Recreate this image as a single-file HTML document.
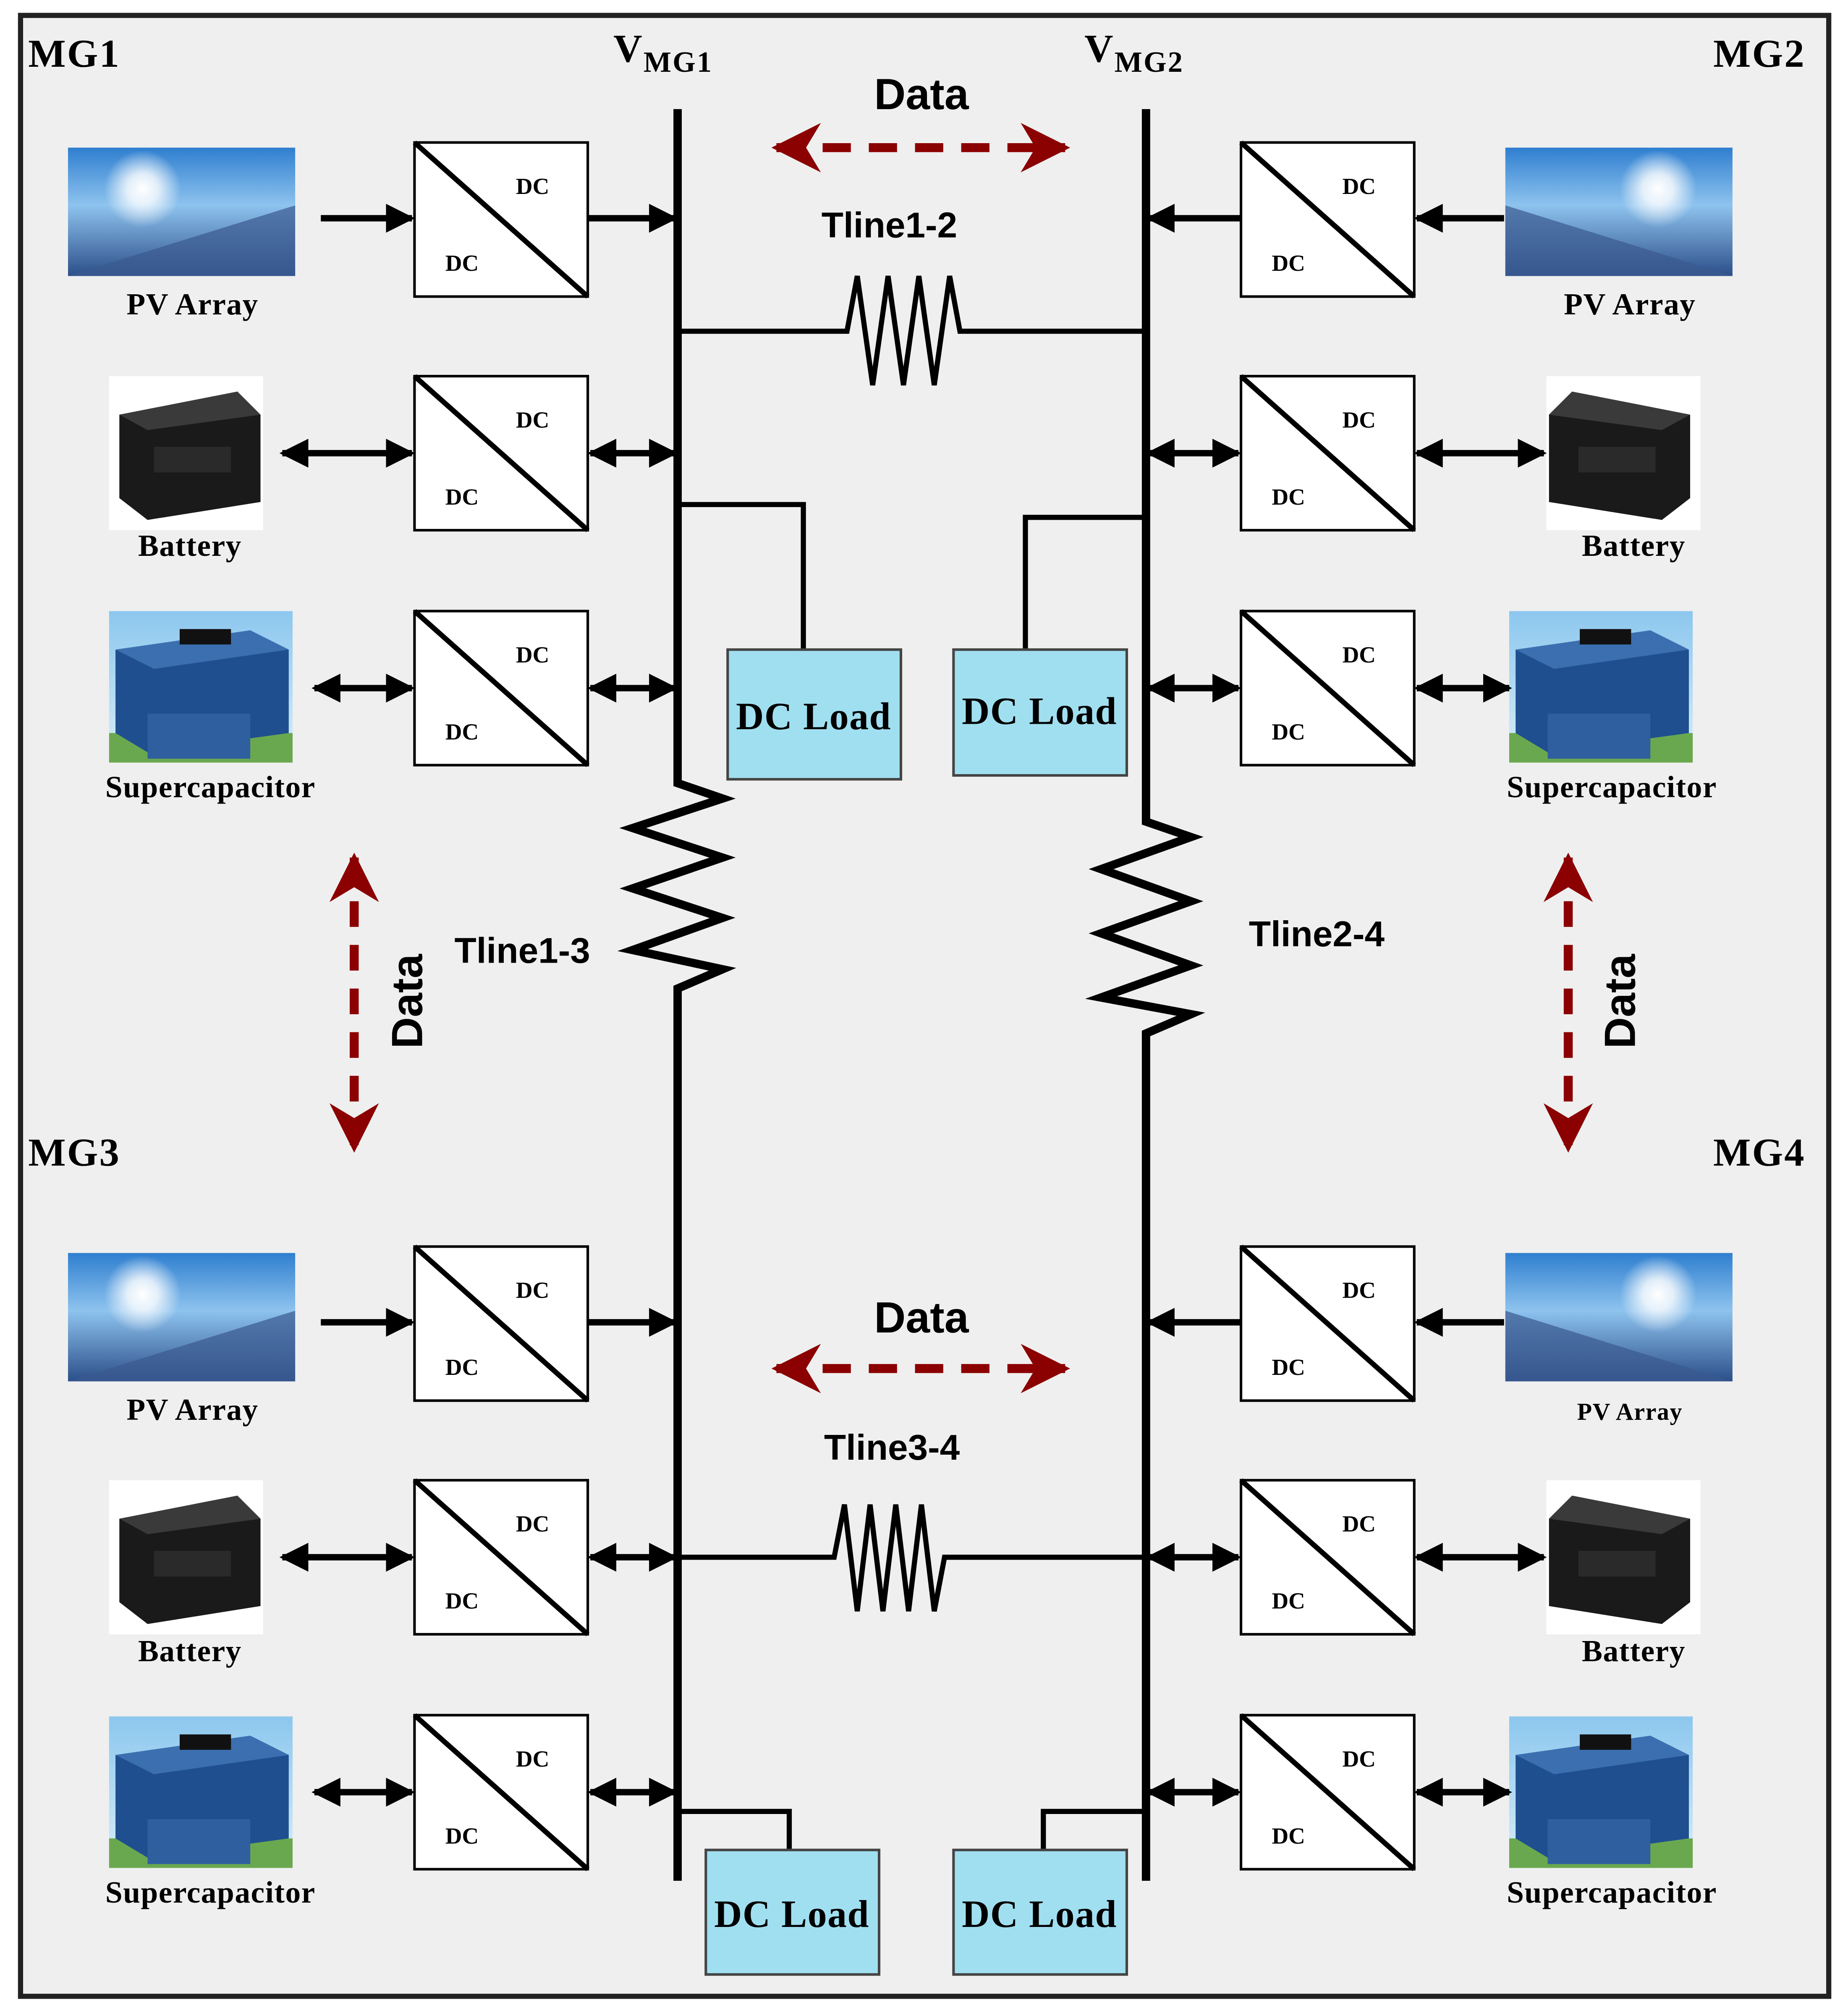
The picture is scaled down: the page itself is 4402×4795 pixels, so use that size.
<!DOCTYPE html>
<html><head><meta charset="utf-8"><style>html,body{margin:0;padding:0;background:#fff}svg{display:block}</style></head>
<body>
<svg width="4402" height="4795" viewBox="0 0 1440 1568" preserveAspectRatio="none" xmlns="http://www.w3.org/2000/svg">
<defs>
<marker id="ah" viewBox="0 0 10 10" refX="9" refY="5" markerWidth="4.5" markerHeight="4.5" orient="auto-start-reverse"><path d="M0,0 L10,5 L0,10 z" fill="#000"/></marker>
<marker id="rh" viewBox="0 0 10 10" refX="9" refY="5" markerWidth="5.5" markerHeight="5.5" orient="auto-start-reverse"><path d="M0,0 L10,5 L0,10 L3,5 z" fill="#8b0000"/></marker>
<linearGradient id="pv" x1="0" y1="0" x2="0" y2="1"><stop offset="0" stop-color="#2f7fd0"/><stop offset="0.45" stop-color="#8ec3ee"/><stop offset="1" stop-color="#2c4f8a"/></linearGradient>
<radialGradient id="sun" cx="0.5" cy="0.5" r="0.5"><stop offset="0" stop-color="#fff"/><stop offset="0.4" stop-color="#fff" stop-opacity="0.8"/><stop offset="1" stop-color="#fff" stop-opacity="0"/></radialGradient>
<linearGradient id="sky" x1="0" y1="0" x2="0" y2="1"><stop offset="0" stop-color="#8cc7ee"/><stop offset="1" stop-color="#d9eef9"/></linearGradient>
<g id="pvimg"><rect width="177" height="100" fill="url(#pv)"/><path d="M0,100 L177,45 L177,100 Z" fill="#3a5a90" opacity="0.7"/><circle cx="58" cy="32" r="30" fill="url(#sun)"/></g>
<g id="bat"><rect width="120" height="120" fill="#fff"/><path d="M8,30 L100,12 L118,30 L118,98 L30,112 L8,95 Z" fill="#1a1a1a"/><path d="M8,30 L100,12 L118,30 L30,42 Z" fill="#3a3a3a"/><rect x="35" y="55" width="60" height="20" fill="#2a2a2a"/></g>
<g id="sc"><rect width="143" height="118" fill="url(#sky)"/><rect y="95" width="143" height="23" fill="#6aa84f"/><path d="M5,30 L110,15 L140,30 L140,95 L30,110 L5,95 Z" fill="#1f4f8f"/><path d="M5,30 L110,15 L140,30 L35,45 Z" fill="#3b6fb0"/><rect x="55" y="14" width="40" height="12" fill="#111"/><rect x="30" y="80" width="80" height="35" fill="#2f5f9f"/></g>
<g id="conv"><rect x="0" y="0" width="135" height="120" fill="#fff" stroke="#000" stroke-width="2"/><line x1="0" y1="0" x2="135" y2="120" stroke="#000" stroke-width="4"/><text x="92" y="40" font-family="Liberation Serif,serif" font-weight="bold" font-size="18" text-anchor="middle">DC</text><text x="37" y="100" font-family="Liberation Serif,serif" font-weight="bold" font-size="18" text-anchor="middle">DC</text></g>
</defs>
<rect x="16" y="12" width="1409" height="1543" fill="#efefef" stroke="#222" stroke-width="4"/>
<g font-family="Liberation Serif,serif" font-weight="bold" font-size="31" letter-spacing="1">
<text x="22" y="52">MG1</text><text x="1335" y="52">MG2</text><text x="22" y="908">MG3</text><text x="1335" y="908">MG4</text>
<text x="478" y="48">V<tspan font-size="23" dy="8">MG1</tspan></text>
<text x="845" y="48">V<tspan font-size="23" dy="8">MG2</tspan></text>
</g>
<g stroke="#000" stroke-width="6.5" fill="none">
<polyline points="528,85 528,610 563,622 493,645 563,668 493,692 563,715 493,740 563,755 528,770 528,1465"/>
<polyline points="893,85 893,640 928,652 858,677 928,702 858,727 928,752 858,777 928,790 893,805 893,1465"/>
</g>
<g stroke="#000" stroke-width="4" fill="none">
<polyline points="528,258 630,258 660,258 668,215 680,300 692,215 704,300 716,215 728,300 740,215 748,258 770,258 893,258"/>
<polyline points="528,1213 640,1213 650,1213 658,1172 668,1255 678,1172 688,1255 698,1172 708,1255 718,1172 728,1255 736,1213 893,1213"/>
<polyline points="528,393 626,393 626,506"/>
<polyline points="893,403 799,403 799,506"/>
<polyline points="528,1411 615,1411 615,1441"/>
<polyline points="893,1411 813,1411 813,1441"/>
</g>
<g font-family="Liberation Serif,serif" font-weight="bold" font-size="30" text-anchor="middle" letter-spacing="0.5">
<rect x="567" y="506" width="135" height="101" fill="#a0dff0" stroke="#444" stroke-width="2"/><text x="634" y="568">DC Load</text>
<rect x="743" y="506" width="135" height="98" fill="#a0dff0" stroke="#444" stroke-width="2"/><text x="810" y="564">DC Load</text>
<rect x="550" y="1441" width="135" height="97" fill="#a0dff0" stroke="#444" stroke-width="2"/><text x="617" y="1501">DC Load</text>
<rect x="743" y="1441" width="135" height="97" fill="#a0dff0" stroke="#444" stroke-width="2"/><text x="810" y="1501">DC Load</text>
</g>
<use href="#conv" x="323" y="111"/><use href="#conv" x="323" y="293"/><use href="#conv" x="323" y="476"/>
<use href="#conv" x="323" y="971"/><use href="#conv" x="323" y="1153"/><use href="#conv" x="323" y="1336"/>
<use href="#conv" x="967" y="111"/><use href="#conv" x="967" y="293"/><use href="#conv" x="967" y="476"/>
<use href="#conv" x="967" y="971"/><use href="#conv" x="967" y="1153"/><use href="#conv" x="967" y="1336"/>
<use href="#pvimg" x="53" y="115"/><use href="#pvimg" x="53" y="976"/>
<g transform="translate(1350,115) scale(-1,1)"><use href="#pvimg"/></g><g transform="translate(1350,976) scale(-1,1)"><use href="#pvimg"/></g>
<use href="#bat" x="85" y="293"/><use href="#bat" x="85" y="1153"/>
<g transform="translate(1325,293) scale(-1,1)"><use href="#bat"/></g><g transform="translate(1325,1153) scale(-1,1)"><use href="#bat"/></g>
<use href="#sc" x="85" y="476"/><use href="#sc" x="85" y="1337"/><use href="#sc" x="1176" y="476"/><use href="#sc" x="1176" y="1337"/>
<g font-family="Liberation Serif,serif" font-weight="bold" font-size="24" text-anchor="middle" letter-spacing="0.5">
<text x="150" y="245">PV Array</text><text x="150" y="1106">PV Array</text><text x="1270" y="245">PV Array</text><text x="1270" y="1106" font-size="19">PV Array</text>
<text x="148" y="433">Battery</text><text x="148" y="1294">Battery</text><text x="1273" y="433">Battery</text><text x="1273" y="1294">Battery</text>
<text x="164" y="621">Supercapacitor</text><text x="164" y="1482">Supercapacitor</text><text x="1256" y="621">Supercapacitor</text><text x="1256" y="1482">Supercapacitor</text>
</g>
<g stroke="#000" stroke-width="5" marker-end="url(#ah)">
<line x1="250" y1="170" x2="321" y2="170"/><line x1="458" y1="170" x2="526" y2="170"/>
<line x1="250" y1="1030" x2="321" y2="1030"/><line x1="458" y1="1030" x2="526" y2="1030"/>
<line x1="1172" y1="170" x2="1104" y2="170"/><line x1="967" y1="170" x2="895" y2="170"/>
<line x1="1172" y1="1030" x2="1104" y2="1030"/><line x1="967" y1="1030" x2="895" y2="1030"/>
</g>
<g stroke="#000" stroke-width="5" marker-end="url(#ah)" marker-start="url(#ah)">
<line x1="220" y1="353" x2="321" y2="353"/><line x1="460" y1="353" x2="526" y2="353"/>
<line x1="245" y1="536" x2="321" y2="536"/><line x1="460" y1="536" x2="526" y2="536"/>
<line x1="220" y1="1213" x2="321" y2="1213"/><line x1="460" y1="1213" x2="526" y2="1213"/>
<line x1="245" y1="1396" x2="321" y2="1396"/><line x1="460" y1="1396" x2="526" y2="1396"/>
<line x1="895" y1="353" x2="965" y2="353"/><line x1="1104" y1="353" x2="1203" y2="353"/>
<line x1="895" y1="536" x2="965" y2="536"/><line x1="1104" y1="536" x2="1176" y2="536"/>
<line x1="895" y1="1213" x2="965" y2="1213"/><line x1="1104" y1="1213" x2="1203" y2="1213"/>
<line x1="895" y1="1396" x2="965" y2="1396"/><line x1="1104" y1="1396" x2="1176" y2="1396"/>
</g>
<g stroke="#8b0000" stroke-width="7" stroke-dasharray="22,14" marker-end="url(#rh)" marker-start="url(#rh)">
<line x1="605" y1="115" x2="830" y2="115"/>
<line x1="605" y1="1066" x2="830" y2="1066"/>
<line x1="276" y1="668" x2="276" y2="894" stroke-dasharray="20,14"/>
<line x1="1222" y1="668" x2="1222" y2="894" stroke-dasharray="20,14"/>
</g>
<g font-family="Liberation Sans,sans-serif" font-weight="bold" font-size="30" text-anchor="middle">
<text x="718" y="85" font-size="34">Data</text><text x="718" y="1038" font-size="34">Data</text>
<text x="693" y="185" font-size="28">Tline1-2</text><text x="695" y="1137" font-size="28">Tline3-4</text>
<text x="407" y="750" font-size="28">Tline1-3</text><text x="1026" y="737" font-size="28">Tline2-4</text>
<text transform="translate(329,780) rotate(-90)" font-size="34">Data</text>
<text transform="translate(1274,780) rotate(-90)" font-size="34">Data</text>
</g>
</svg>
</body></html>
